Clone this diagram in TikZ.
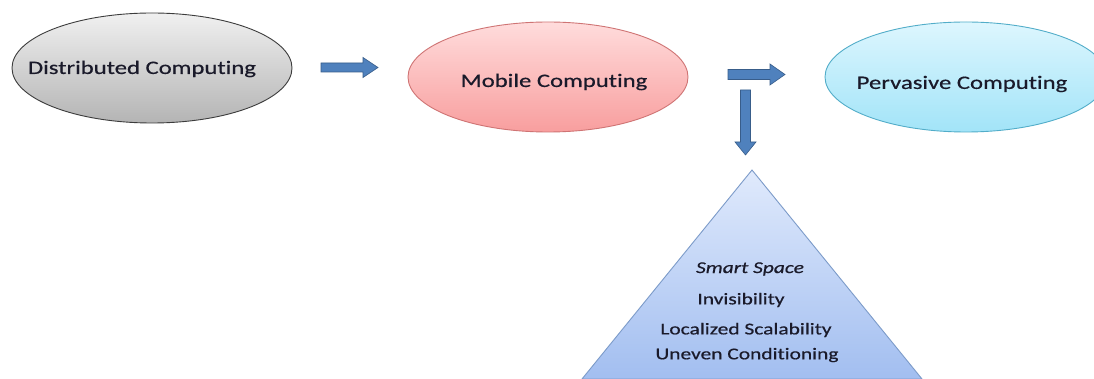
\documentclass[tikz,border=0pt]{standalone}
\usepackage{fontspec}
\setmainfont[FakeStretch=1.3, FakeBold=0.5, Ligatures=NoCommon]{Carlito}
\usetikzlibrary{shapes.geometric}
\definecolor{txt}{HTML}{1A1A2A}
\definecolor{arrowfill}{HTML}{4F81BD}
\definecolor{arrowline}{HTML}{385D8A}
\definecolor{graytop}{HTML}{F0F0F0}
\definecolor{graybot}{HTML}{B4B4B4}
\definecolor{grayline}{HTML}{3C3C3C}
\definecolor{pinktop}{HTML}{FFDCDC}
\definecolor{pinkbot}{HTML}{F89E9E}
\definecolor{pinkline}{HTML}{CF7474}
\definecolor{cyantop}{HTML}{DDF6FE}
\definecolor{cyanbot}{HTML}{A2E4F8}
\definecolor{cyanline}{HTML}{52ADC9}
\definecolor{tritop}{HTML}{E0EAFC}
\definecolor{tribot}{HTML}{A2BEF0}
\definecolor{triline}{HTML}{7C9BC9}
\tikzset{
  stage/.style={ellipse, inner sep=0pt, line width=0.9pt},
  grayoval/.style={stage, draw=grayline, top color=graytop, bottom color=graybot},
  pinkoval/.style={stage, draw=pinkline, top color=pinktop, bottom color=pinkbot},
  cyanoval/.style={stage, draw=cyanline, top color=cyantop, bottom color=cyanbot},
  stagelabel/.style={text=txt, font=\fontsize{19}{22}\selectfont},
  blockarrow/.style={fill=arrowfill, draw=arrowline, line width=0.6pt, line join=miter},
  trilabel/.style={text=txt, font=\fontsize{16.5}{19}\selectfont}
}
\begin{document}
\begin{tikzpicture}[x=1pt, y=-1pt]
  \useasboundingbox (0,0) rectangle (1094,379);
  \clip (0,0) rectangle (1094,379);
  \fill[white] (0,0) rectangle (1094,379);

  % the three computing stages
  \node[grayoval, minimum width=280pt, minimum height=110pt] (dist) at (152,68) {};
  \node[stagelabel] (distlbl) at (142,69) {Distributed Computing};
  \node[pinkoval, minimum width=280pt, minimum height=110pt] (mob) at (548,77) {};
  \node[stagelabel] (moblbl) at (554,82) {Mobile Computing};
  \node[cyanoval, minimum width=282pt, minimum height=110pt] (perv) at (966,77) {};
  \node[stagelabel] (pervlbl) at (962,84) {Pervasive Computing};

  % block arrows between the stages
  \draw[blockarrow] (321,63) -- (363,63) -- (363,57.5) -- (378,67.5) -- (363,77.5)
    -- (363,72) -- (321,72) -- cycle;
  \draw[blockarrow] (728,69.5) -- (770,69.5) -- (770,64) -- (785,74.5) -- (770,85)
    -- (770,79.5) -- (728,79.5) -- cycle;
  \draw[blockarrow] (740.5,90) -- (750.5,90) -- (750.5,142) -- (756,142) -- (745.5,155)
    -- (735,142) -- (740.5,142) -- cycle;

  % smart space triangle
  \coordinate (apex) at (752,170);
  \coordinate (baseL) at (582,379);
  \coordinate (baseR) at (922,379);
  \draw[draw=triline, line width=0.9pt, top color=tritop, bottom color=tribot]
    (apex) -- (baseL) -- (baseR) -- cycle;
  \node[trilabel, font=\fontsize{16.5}{19}\itshape\selectfont] (smart) at (750,269) {Smart Space};
  \node[trilabel] (invis) at (741,300) {Invisibility};
  \node[trilabel] (scal) at (746,330) {Localized Scalability};
  \node[trilabel] (uneven) at (747,355) {Uneven Conditioning};
\end{tikzpicture}
\end{document}
